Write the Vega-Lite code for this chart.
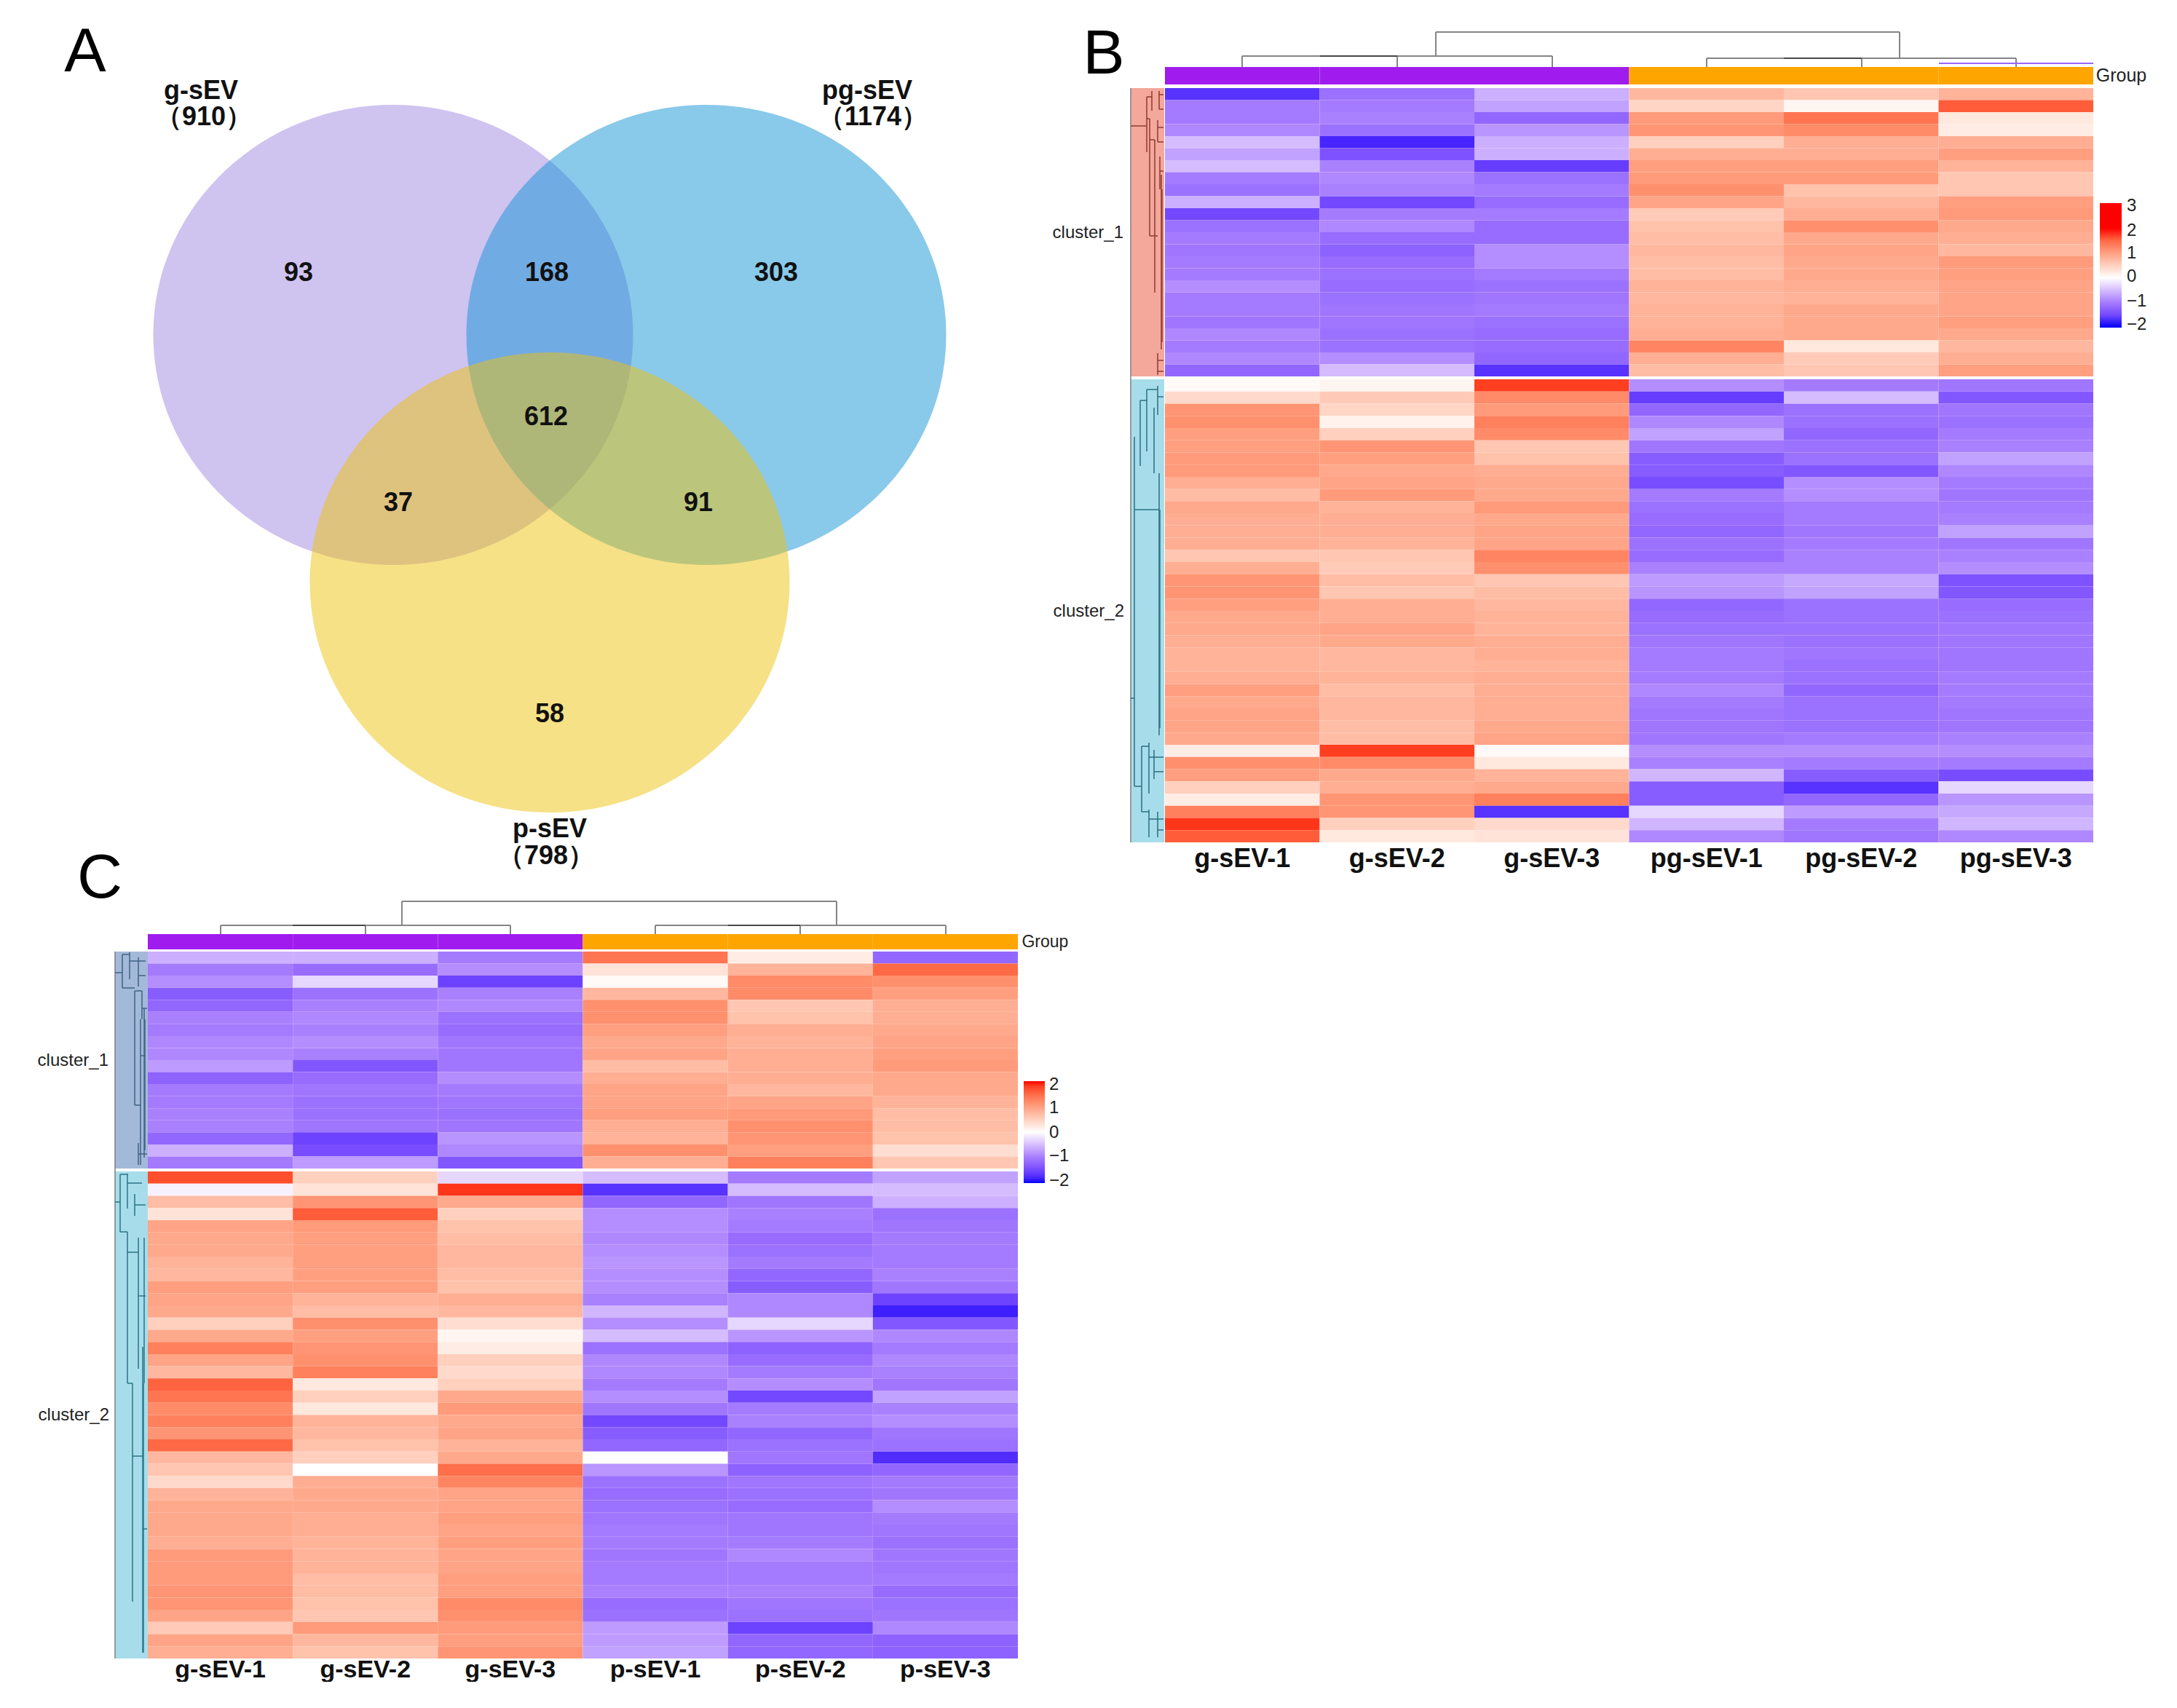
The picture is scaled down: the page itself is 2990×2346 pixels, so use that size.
{"$schema":"https://vega.github.io/schema/vega-lite/v6.json","background":"white","padding":0,"config":{"view":{"stroke":null},"font":"Liberation Sans"},"columns":4,"align":"none","bounds":"flush","spacing":0,"resolve":{"scale":{"color":"independent","stroke":"independent"},"legend":{"color":"independent"}},"concat":[
{"width":203,"height":92,"layer":[
{"data":{"values":[{"set":"g-sEV","x":540,"y":460},{"set":"pg-sEV","x":970,"y":460},{"set":"p-sEV","x":755,"y":800}]},"mark":{"type":"point","filled":true,"shape":"M-1,0A1,0.959,0,1,1,1,0A1,0.959,0,1,1,-1,0Z","size":434281,"opacity":0.5},"encoding":{"x":{"field":"x","type":"quantitative","axis":null,"scale":{"domain":[0,203],"nice":false,"zero":false}},"y":{"field":"y","type":"quantitative","axis":null,"scale":{"domain":[0,92],"reverse":true,"nice":false,"zero":false}},"color":{"field":"set","type":"nominal","legend":null,"scale":{"domain":["g-sEV","pg-sEV","p-sEV","B1","B2","C1","C2"],"range":["#9F87E1","#1393D5","#EDC30D","#F4A79B","#A7DDEA","#A3B9DA","#A7DDEA"]}}}},
{"data":{"values":[{"set":"B1","x":1553,"x2":1599,"y":121,"y2":517},{"set":"B2","x":1553,"x2":1599,"y":521,"y2":1157},{"set":"C1","x":158,"x2":203,"y":1307,"y2":1605},{"set":"C2","x":158,"x2":203,"y":1609,"y2":2278}]},"mark":{"type":"rect"},"encoding":{"x":{"field":"x","type":"quantitative"},"x2":{"field":"x2"},"y":{"field":"y","type":"quantitative"},"y2":{"field":"y2"},"color":{"field":"set","type":"nominal","legend":null}}},
{"data":{"values":[{"k":"root","x":1553,"x2":1553,"y":121,"y2":1157},{"k":"b1","x":1553,"x2":1575,"y":173,"y2":173},{"k":"b1","x":1575,"x2":1575,"y":133,"y2":209},{"k":"b1","x":1579,"x2":1579,"y":163,"y2":324},{"k":"b1","x":1575,"x2":1579,"y":163,"y2":163},{"k":"b1","x":1582,"x2":1582,"y":125,"y2":152},{"k":"b1","x":1575,"x2":1582,"y":133,"y2":133},{"k":"b1","x":1586,"x2":1586,"y":192,"y2":402},{"k":"b1","x":1579,"x2":1586,"y":192,"y2":192},{"k":"b1","x":1592,"x2":1598,"y":130,"y2":130},{"k":"b1","x":1592,"x2":1592,"y":125,"y2":150},{"k":"b1","x":1592,"x2":1598,"y":150,"y2":150},{"k":"b1","x":1590,"x2":1598,"y":175,"y2":175},{"k":"b1","x":1590,"x2":1590,"y":165,"y2":195},{"k":"b1","x":1590,"x2":1598,"y":195,"y2":195},{"k":"b1","x":1593,"x2":1593,"y":215,"y2":260},{"k":"b1","x":1593,"x2":1598,"y":235,"y2":235},{"k":"b1","x":1595,"x2":1595,"y":240,"y2":480},{"k":"b1","x":1596,"x2":1596,"y":260,"y2":470},{"k":"b1","x":1590,"x2":1590,"y":485,"y2":515},{"k":"b1","x":1590,"x2":1598,"y":495,"y2":495},{"k":"b1","x":1590,"x2":1598,"y":510,"y2":510},{"k":"b1","x":1579,"x2":1590,"y":324,"y2":324},{"k":"b2","x":1553,"x2":1558,"y":959,"y2":959},{"k":"b2","x":1558,"x2":1558,"y":600,"y2":1080},{"k":"b2","x":1566,"x2":1566,"y":550,"y2":640},{"k":"b2","x":1566,"x2":1575,"y":550,"y2":550},{"k":"b2","x":1575,"x2":1575,"y":535,"y2":620},{"k":"b2","x":1575,"x2":1590,"y":535,"y2":535},{"k":"b2","x":1585,"x2":1585,"y":560,"y2":650},{"k":"b2","x":1590,"x2":1590,"y":530,"y2":570},{"k":"b2","x":1590,"x2":1598,"y":545,"y2":545},{"k":"b2","x":1592,"x2":1592,"y":650,"y2":1010},{"k":"b2","x":1593,"x2":1593,"y":700,"y2":1000},{"k":"b2","x":1558,"x2":1592,"y":700,"y2":700},{"k":"b2","x":1558,"x2":1568,"y":1080,"y2":1080},{"k":"b2","x":1568,"x2":1568,"y":1025,"y2":1115},{"k":"b2","x":1568,"x2":1578,"y":1025,"y2":1025},{"k":"b2","x":1578,"x2":1578,"y":1020,"y2":1090},{"k":"b2","x":1578,"x2":1598,"y":1040,"y2":1040},{"k":"b2","x":1585,"x2":1585,"y":1030,"y2":1070},{"k":"b2","x":1585,"x2":1598,"y":1060,"y2":1060},{"k":"b2","x":1568,"x2":1578,"y":1115,"y2":1115},{"k":"b2","x":1578,"x2":1578,"y":1112,"y2":1150},{"k":"b2","x":1578,"x2":1598,"y":1125,"y2":1125},{"k":"b2","x":1590,"x2":1590,"y":1115,"y2":1150},{"k":"b2","x":1590,"x2":1598,"y":1140,"y2":1140},{"k":"root","x":158,"x2":158,"y":1307,"y2":2278},{"k":"c1","x":158,"x2":168,"y":1336,"y2":1336},{"k":"c1","x":168,"x2":168,"y":1311,"y2":1357},{"k":"c1","x":168,"x2":178,"y":1311,"y2":1311},{"k":"c1","x":178,"x2":178,"y":1308,"y2":1345},{"k":"c1","x":178,"x2":200,"y":1320,"y2":1320},{"k":"c1","x":190,"x2":190,"y":1315,"y2":1355},{"k":"c1","x":190,"x2":200,"y":1340,"y2":1340},{"k":"c1","x":168,"x2":185,"y":1357,"y2":1357},{"k":"c1","x":185,"x2":185,"y":1361,"y2":1518},{"k":"c1","x":185,"x2":195,"y":1361,"y2":1361},{"k":"c1","x":195,"x2":195,"y":1361,"y2":1400},{"k":"c1","x":195,"x2":202,"y":1385,"y2":1385},{"k":"c1","x":185,"x2":193,"y":1518,"y2":1518},{"k":"c1","x":193,"x2":193,"y":1400,"y2":1600},{"k":"c1","x":193,"x2":200,"y":1450,"y2":1450},{"k":"c1","x":198,"x2":198,"y":1385,"y2":1590},{"k":"c1","x":199,"x2":199,"y":1400,"y2":1580},{"k":"c1","x":190,"x2":190,"y":1570,"y2":1600},{"k":"c1","x":190,"x2":202,"y":1585,"y2":1585},{"k":"c2","x":158,"x2":165,"y":1651,"y2":1651},{"k":"c2","x":165,"x2":165,"y":1613,"y2":1692},{"k":"c2","x":165,"x2":175,"y":1613,"y2":1613},{"k":"c2","x":175,"x2":175,"y":1612,"y2":1660},{"k":"c2","x":175,"x2":195,"y":1625,"y2":1625},{"k":"c2","x":185,"x2":185,"y":1640,"y2":1670},{"k":"c2","x":185,"x2":200,"y":1655,"y2":1655},{"k":"c2","x":165,"x2":175,"y":1692,"y2":1692},{"k":"c2","x":175,"x2":175,"y":1692,"y2":1900},{"k":"c2","x":175,"x2":190,"y":1720,"y2":1720},{"k":"c2","x":190,"x2":190,"y":1700,"y2":1880},{"k":"c2","x":190,"x2":200,"y":1780,"y2":1780},{"k":"c2","x":198,"x2":198,"y":1700,"y2":1900},{"k":"c2","x":175,"x2":182,"y":1900,"y2":1900},{"k":"c2","x":182,"x2":182,"y":1900,"y2":2200},{"k":"c2","x":182,"x2":196,"y":2000,"y2":2000},{"k":"c2","x":196,"x2":196,"y":1850,"y2":2270},{"k":"c2","x":197,"x2":197,"y":1900,"y2":2270},{"k":"c2","x":196,"x2":202,"y":2100,"y2":2100}]},"mark":{"type":"rule","strokeWidth":1.5},"encoding":{"x":{"field":"x","type":"quantitative"},"x2":{"field":"x2"},"y":{"field":"y","type":"quantitative"},"y2":{"field":"y2"},"stroke":{"field":"k","type":"nominal","legend":null,"scale":{"domain":["root","b1","b2","c1","c2","main","dark","stray"],"range":["#7f7f7f","#8C3B30","#2B6E80","#3F6283","#2A7385","#858585","#484848","#9966FF"]}}}},
{"data":{"values":[{"k":"main","x":1972,"x2":2609,"y":44,"y2":44},{"k":"main","x":1972,"x2":1972,"y":44,"y2":77},{"k":"main","x":2609,"x2":2609,"y":44,"y2":80},{"k":"main","x":1706,"x2":2132,"y":77,"y2":77},{"k":"main","x":1706,"x2":1706,"y":77,"y2":92},{"k":"main","x":1919,"x2":1919,"y":77,"y2":92},{"k":"main","x":2132,"x2":2132,"y":77,"y2":92},{"k":"dark","x":1813,"x2":1919,"y":77,"y2":77},{"k":"main","x":2344,"x2":2769,"y":80,"y2":80},{"k":"main","x":2344,"x2":2344,"y":80,"y2":92},{"k":"main","x":2557,"x2":2557,"y":80,"y2":92},{"k":"main","x":2769,"x2":2769,"y":80,"y2":92},{"k":"dark","x":2450,"x2":2557,"y":80,"y2":80},{"k":"stray","x":2663,"x2":2875,"y":87,"y2":87},{"k":"main","x":552,"x2":1149,"y":1238,"y2":1238},{"k":"main","x":552,"x2":552,"y":1238,"y2":1271},{"k":"main","x":1149,"x2":1149,"y":1238,"y2":1271},{"k":"main","x":303,"x2":701,"y":1271,"y2":1271},{"k":"main","x":303,"x2":303,"y":1271,"y2":1283},{"k":"main","x":502,"x2":502,"y":1271,"y2":1283},{"k":"main","x":701,"x2":701,"y":1271,"y2":1283},{"k":"dark","x":402,"x2":502,"y":1271,"y2":1271},{"k":"main","x":900,"x2":1299,"y":1271,"y2":1271},{"k":"main","x":900,"x2":900,"y":1271,"y2":1283},{"k":"main","x":1099,"x2":1099,"y":1271,"y2":1283},{"k":"main","x":1299,"x2":1299,"y":1271,"y2":1283},{"k":"dark","x":1000,"x2":1099,"y":1271,"y2":1271}]},"mark":{"type":"rule","strokeWidth":2},"encoding":{"x":{"field":"x","type":"quantitative"},"x2":{"field":"x2"},"y":{"field":"y","type":"quantitative"},"y2":{"field":"y2"},"stroke":{"field":"k","type":"nominal","legend":null}}},
{"data":{"values":[{"t":"93","x":410,"y":375},{"t":"168","x":751,"y":375},{"t":"303","x":1066,"y":375},{"t":"612","x":750,"y":573},{"t":"37","x":547,"y":691},{"t":"91","x":959,"y":691},{"t":"58","x":755,"y":981},{"t":"g-sEV","x":276,"y":125},{"t":"（910）","x":280,"y":161},{"t":"pg-sEV","x":1191,"y":125},{"t":"（1174）","x":1199,"y":161},{"t":"p-sEV","x":755,"y":1139},{"t":"（798）","x":750,"y":1176}]},"mark":{"type":"text","fontSize":36,"fontWeight":"bold","color":"#111111","baseline":"middle"},"encoding":{"x":{"field":"x","type":"quantitative"},"y":{"field":"y","type":"quantitative"},"text":{"field":"t"}}},
{"data":{"values":[{"t":"A","x":117,"y":72},{"t":"B","x":1516,"y":75},{"t":"C","x":137,"y":1207}]},"mark":{"type":"text","fontSize":86,"color":"black","baseline":"middle"},"encoding":{"x":{"field":"x","type":"quantitative"},"y":{"field":"y","type":"quantitative"},"text":{"field":"t"}}},
{"data":{"values":[{"t":"cluster_1","x":1543,"y":320},{"t":"cluster_2","x":1544,"y":840},{"t":"cluster_1","x":149,"y":1457},{"t":"cluster_2","x":150,"y":1944}]},"mark":{"type":"text","fontSize":24,"color":"#222222","align":"right","baseline":"middle"},"encoding":{"x":{"field":"x","type":"quantitative"},"y":{"field":"y","type":"quantitative"},"text":{"field":"t"}}},
{"data":{"values":[{"t":"3","x":2921,"y":283},{"t":"2","x":2921,"y":317},{"t":"1","x":2921,"y":348},{"t":"0","x":2921,"y":380},{"t":"−1","x":2921,"y":414},{"t":"−2","x":2921,"y":446},{"t":"2","x":1441,"y":1490},{"t":"1","x":1441,"y":1522},{"t":"0","x":1441,"y":1556},{"t":"−1","x":1441,"y":1588},{"t":"−2","x":1441,"y":1622}]},"mark":{"type":"text","fontSize":24,"color":"#222222","align":"left","baseline":"middle"},"encoding":{"x":{"field":"x","type":"quantitative"},"y":{"field":"y","type":"quantitative"},"text":{"field":"t"}}}
]},
{"width":1195,"height":1,"data":{"values":[]},"mark":"rect","encoding":{}},
{"width":202,"height":1,"data":{"values":[]},"mark":"rect","encoding":{}},
{"width":1275,"height":1,"data":{"values":[]},"mark":"rect","encoding":{}},
{"width":1,"height":1,"data":{"values":[]},"mark":"rect","encoding":{}},
{"width":1,"height":1,"data":{"values":[]},"mark":"rect","encoding":{}},
{"width":1,"height":1,"data":{"values":[]},"mark":"rect","encoding":{}},
{"width":1275,"height":24,"data":{"values":[{"s":"g-sEV-1","g":"g"},{"s":"g-sEV-2","g":"g"},{"s":"g-sEV-3","g":"g"},{"s":"pg-sEV-1","g":"o"},{"s":"pg-sEV-2","g":"o"},{"s":"pg-sEV-3","g":"o"}]},"layer":[{"mark":{"type":"rect"},"encoding":{"x":{"field":"s","type":"nominal","axis":null,"sort":null,"scale":{"paddingInner":0,"paddingOuter":0}},"color":{"field":"g","type":"nominal","legend":null,"scale":{"domain":["g","o"],"range":["#A01CEE","#FFA500"]}}}},{"transform":[{"filter":"datum.s==='pg-sEV-3'"}],"mark":{"type":"text","text":"Group","fontSize":25,"align":"left","dx":110,"color":"#222222"},"encoding":{"x":{"field":"s","type":"nominal","sort":null}}}]},
{"width":1,"height":5,"data":{"values":[]},"mark":"rect","encoding":{}},
{"width":1,"height":1,"data":{"values":[]},"mark":"rect","encoding":{}},
{"width":1,"height":1,"data":{"values":[]},"mark":"rect","encoding":{}},
{"width":1,"height":1,"data":{"values":[]},"mark":"rect","encoding":{}},
{"width":1,"height":1,"data":{"values":[]},"mark":"rect","encoding":{}},
{"width":1,"height":1,"data":{"values":[]},"mark":"rect","encoding":{}},
{"width":1,"height":1,"data":{"values":[]},"mark":"rect","encoding":{}},
{"width":1275,"height":396,"data":{"values":[{"r":1,"s":"g-sEV-1","v":-1.7},{"r":2,"s":"g-sEV-1","v":-1.0},{"r":3,"s":"g-sEV-1","v":-1.0},{"r":4,"s":"g-sEV-1","v":-0.9},{"r":5,"s":"g-sEV-1","v":-0.5},{"r":6,"s":"g-sEV-1","v":-0.7},{"r":7,"s":"g-sEV-1","v":-0.5},{"r":8,"s":"g-sEV-1","v":-1.0},{"r":9,"s":"g-sEV-1","v":-1.1},{"r":10,"s":"g-sEV-1","v":-0.6},{"r":11,"s":"g-sEV-1","v":-1.5},{"r":12,"s":"g-sEV-1","v":-1.1},{"r":13,"s":"g-sEV-1","v":-1.0},{"r":14,"s":"g-sEV-1","v":-1.05},{"r":15,"s":"g-sEV-1","v":-1.0},{"r":16,"s":"g-sEV-1","v":-1.0},{"r":17,"s":"g-sEV-1","v":-0.85},{"r":18,"s":"g-sEV-1","v":-1.0},{"r":19,"s":"g-sEV-1","v":-1.0},{"r":20,"s":"g-sEV-1","v":-1.05},{"r":21,"s":"g-sEV-1","v":-0.9},{"r":22,"s":"g-sEV-1","v":-1.0},{"r":23,"s":"g-sEV-1","v":-0.9},{"r":24,"s":"g-sEV-1","v":-1.2},{"r":1,"s":"g-sEV-2","v":-1.1},{"r":2,"s":"g-sEV-2","v":-1.0},{"r":3,"s":"g-sEV-2","v":-0.95},{"r":4,"s":"g-sEV-2","v":-1.1},{"r":5,"s":"g-sEV-2","v":-1.8},{"r":6,"s":"g-sEV-2","v":-1.4},{"r":7,"s":"g-sEV-2","v":-0.95},{"r":8,"s":"g-sEV-2","v":-0.9},{"r":9,"s":"g-sEV-2","v":-0.95},{"r":10,"s":"g-sEV-2","v":-1.5},{"r":11,"s":"g-sEV-2","v":-1.0},{"r":12,"s":"g-sEV-2","v":-0.9},{"r":13,"s":"g-sEV-2","v":-1.15},{"r":14,"s":"g-sEV-2","v":-1.25},{"r":15,"s":"g-sEV-2","v":-1.15},{"r":16,"s":"g-sEV-2","v":-1.1},{"r":17,"s":"g-sEV-2","v":-1.15},{"r":18,"s":"g-sEV-2","v":-1.1},{"r":19,"s":"g-sEV-2","v":-1.05},{"r":20,"s":"g-sEV-2","v":-1.05},{"r":21,"s":"g-sEV-2","v":-1.1},{"r":22,"s":"g-sEV-2","v":-1.1},{"r":23,"s":"g-sEV-2","v":-0.85},{"r":24,"s":"g-sEV-2","v":-0.5},{"r":1,"s":"g-sEV-3","v":-0.6},{"r":2,"s":"g-sEV-3","v":-0.7},{"r":3,"s":"g-sEV-3","v":-1.2},{"r":4,"s":"g-sEV-3","v":-0.8},{"r":5,"s":"g-sEV-3","v":-0.6},{"r":6,"s":"g-sEV-3","v":-0.6},{"r":7,"s":"g-sEV-3","v":-1.6},{"r":8,"s":"g-sEV-3","v":-1.1},{"r":9,"s":"g-sEV-3","v":-1.0},{"r":10,"s":"g-sEV-3","v":-1.15},{"r":11,"s":"g-sEV-3","v":-1.0},{"r":12,"s":"g-sEV-3","v":-1.15},{"r":13,"s":"g-sEV-3","v":-1.15},{"r":14,"s":"g-sEV-3","v":-0.85},{"r":15,"s":"g-sEV-3","v":-0.85},{"r":16,"s":"g-sEV-3","v":-1.0},{"r":17,"s":"g-sEV-3","v":-1.1},{"r":18,"s":"g-sEV-3","v":-1.05},{"r":19,"s":"g-sEV-3","v":-1.0},{"r":20,"s":"g-sEV-3","v":-1.1},{"r":21,"s":"g-sEV-3","v":-1.15},{"r":22,"s":"g-sEV-3","v":-1.15},{"r":23,"s":"g-sEV-3","v":-1.2},{"r":24,"s":"g-sEV-3","v":-1.7},{"r":1,"s":"pg-sEV-1","v":0.75},{"r":2,"s":"pg-sEV-1","v":0.45},{"r":3,"s":"pg-sEV-1","v":1.05},{"r":4,"s":"pg-sEV-1","v":1.1},{"r":5,"s":"pg-sEV-1","v":0.5},{"r":6,"s":"pg-sEV-1","v":0.85},{"r":7,"s":"pg-sEV-1","v":1.0},{"r":8,"s":"pg-sEV-1","v":1.05},{"r":9,"s":"pg-sEV-1","v":1.15},{"r":10,"s":"pg-sEV-1","v":0.95},{"r":11,"s":"pg-sEV-1","v":0.55},{"r":12,"s":"pg-sEV-1","v":0.65},{"r":13,"s":"pg-sEV-1","v":0.7},{"r":14,"s":"pg-sEV-1","v":0.75},{"r":15,"s":"pg-sEV-1","v":0.7},{"r":16,"s":"pg-sEV-1","v":0.7},{"r":17,"s":"pg-sEV-1","v":0.8},{"r":18,"s":"pg-sEV-1","v":0.75},{"r":19,"s":"pg-sEV-1","v":0.8},{"r":20,"s":"pg-sEV-1","v":0.8},{"r":21,"s":"pg-sEV-1","v":0.85},{"r":22,"s":"pg-sEV-1","v":1.25},{"r":23,"s":"pg-sEV-1","v":0.85},{"r":24,"s":"pg-sEV-1","v":0.7},{"r":1,"s":"pg-sEV-2","v":0.6},{"r":2,"s":"pg-sEV-2","v":0.1},{"r":3,"s":"pg-sEV-2","v":1.4},{"r":4,"s":"pg-sEV-2","v":1.2},{"r":5,"s":"pg-sEV-2","v":0.85},{"r":6,"s":"pg-sEV-2","v":0.85},{"r":7,"s":"pg-sEV-2","v":1.0},{"r":8,"s":"pg-sEV-2","v":1.05},{"r":9,"s":"pg-sEV-2","v":0.65},{"r":10,"s":"pg-sEV-2","v":0.75},{"r":11,"s":"pg-sEV-2","v":0.85},{"r":12,"s":"pg-sEV-2","v":1.15},{"r":13,"s":"pg-sEV-2","v":0.9},{"r":14,"s":"pg-sEV-2","v":0.95},{"r":15,"s":"pg-sEV-2","v":0.9},{"r":16,"s":"pg-sEV-2","v":0.9},{"r":17,"s":"pg-sEV-2","v":0.85},{"r":18,"s":"pg-sEV-2","v":0.8},{"r":19,"s":"pg-sEV-2","v":0.9},{"r":20,"s":"pg-sEV-2","v":0.9},{"r":21,"s":"pg-sEV-2","v":0.9},{"r":22,"s":"pg-sEV-2","v":0.25},{"r":23,"s":"pg-sEV-2","v":0.55},{"r":24,"s":"pg-sEV-2","v":0.6},{"r":1,"s":"pg-sEV-3","v":0.8},{"r":2,"s":"pg-sEV-3","v":1.6},{"r":3,"s":"pg-sEV-3","v":0.25},{"r":4,"s":"pg-sEV-3","v":0.2},{"r":5,"s":"pg-sEV-3","v":0.85},{"r":6,"s":"pg-sEV-3","v":1.0},{"r":7,"s":"pg-sEV-3","v":0.8},{"r":8,"s":"pg-sEV-3","v":0.6},{"r":9,"s":"pg-sEV-3","v":0.6},{"r":10,"s":"pg-sEV-3","v":1.0},{"r":11,"s":"pg-sEV-3","v":1.05},{"r":12,"s":"pg-sEV-3","v":0.9},{"r":13,"s":"pg-sEV-3","v":0.85},{"r":14,"s":"pg-sEV-3","v":0.75},{"r":15,"s":"pg-sEV-3","v":1.05},{"r":16,"s":"pg-sEV-3","v":1.0},{"r":17,"s":"pg-sEV-3","v":0.95},{"r":18,"s":"pg-sEV-3","v":0.95},{"r":19,"s":"pg-sEV-3","v":0.95},{"r":20,"s":"pg-sEV-3","v":1.0},{"r":21,"s":"pg-sEV-3","v":0.9},{"r":22,"s":"pg-sEV-3","v":0.75},{"r":23,"s":"pg-sEV-3","v":0.85},{"r":24,"s":"pg-sEV-3","v":1.0}]},"mark":{"type":"rect"},"encoding":{"x":{"field":"s","type":"nominal","axis":null,"sort":null,"scale":{"paddingInner":0,"paddingOuter":0}},"y":{"field":"r","type":"ordinal","axis":null,"scale":{"paddingInner":0,"paddingOuter":0}},"color":{"field":"v","type":"quantitative","scale":{"domain":[-2,-1,0,2,3],"range":["#0000ff","#A47BFF","#ffffff","#ff0000","#ff0000"],"interpolate":"lab"},"legend":{"type":"gradient","orient":"none","legendX":1284,"legendY":158,"title":null,"direction":"vertical","gradientLength":171,"gradientThickness":30,"values":[-2,-1,0,1,2,3],"labelExpr":"''"}}}},
{"width":1,"height":4,"data":{"values":[]},"mark":"rect","encoding":{}},
{"width":1,"height":1,"data":{"values":[]},"mark":"rect","encoding":{}},
{"width":1,"height":1,"data":{"values":[]},"mark":"rect","encoding":{}},
{"width":1,"height":1,"data":{"values":[]},"mark":"rect","encoding":{}},
{"width":1,"height":1,"data":{"values":[]},"mark":"rect","encoding":{}},
{"width":1,"height":1,"data":{"values":[]},"mark":"rect","encoding":{}},
{"width":1,"height":1,"data":{"values":[]},"mark":"rect","encoding":{}},
{"width":1275,"height":636,"data":{"values":[{"r":1,"s":"g-sEV-1","v":0.05},{"r":2,"s":"g-sEV-1","v":0.4},{"r":3,"s":"g-sEV-1","v":1.1},{"r":4,"s":"g-sEV-1","v":1.15},{"r":5,"s":"g-sEV-1","v":1.0},{"r":6,"s":"g-sEV-1","v":1.0},{"r":7,"s":"g-sEV-1","v":1.05},{"r":8,"s":"g-sEV-1","v":1.05},{"r":9,"s":"g-sEV-1","v":0.85},{"r":10,"s":"g-sEV-1","v":0.7},{"r":11,"s":"g-sEV-1","v":0.9},{"r":12,"s":"g-sEV-1","v":0.85},{"r":13,"s":"g-sEV-1","v":0.85},{"r":14,"s":"g-sEV-1","v":0.85},{"r":15,"s":"g-sEV-1","v":0.6},{"r":16,"s":"g-sEV-1","v":0.85},{"r":17,"s":"g-sEV-1","v":1.1},{"r":18,"s":"g-sEV-1","v":1.1},{"r":19,"s":"g-sEV-1","v":1.0},{"r":20,"s":"g-sEV-1","v":0.9},{"r":21,"s":"g-sEV-1","v":0.9},{"r":22,"s":"g-sEV-1","v":0.85},{"r":23,"s":"g-sEV-1","v":0.8},{"r":24,"s":"g-sEV-1","v":0.8},{"r":25,"s":"g-sEV-1","v":0.85},{"r":26,"s":"g-sEV-1","v":1.0},{"r":27,"s":"g-sEV-1","v":0.9},{"r":28,"s":"g-sEV-1","v":0.95},{"r":29,"s":"g-sEV-1","v":0.95},{"r":30,"s":"g-sEV-1","v":0.9},{"r":31,"s":"g-sEV-1","v":0.2},{"r":32,"s":"g-sEV-1","v":1.15},{"r":33,"s":"g-sEV-1","v":1.0},{"r":34,"s":"g-sEV-1","v":0.5},{"r":35,"s":"g-sEV-1","v":0.2},{"r":36,"s":"g-sEV-1","v":1.3},{"r":37,"s":"g-sEV-1","v":1.85},{"r":38,"s":"g-sEV-1","v":1.6},{"r":1,"s":"g-sEV-2","v":0.1},{"r":2,"s":"g-sEV-2","v":0.55},{"r":3,"s":"g-sEV-2","v":0.45},{"r":4,"s":"g-sEV-2","v":0.15},{"r":5,"s":"g-sEV-2","v":0.5},{"r":6,"s":"g-sEV-2","v":1.1},{"r":7,"s":"g-sEV-2","v":1.0},{"r":8,"s":"g-sEV-2","v":0.9},{"r":9,"s":"g-sEV-2","v":0.95},{"r":10,"s":"g-sEV-2","v":1.05},{"r":11,"s":"g-sEV-2","v":0.8},{"r":12,"s":"g-sEV-2","v":0.85},{"r":13,"s":"g-sEV-2","v":0.85},{"r":14,"s":"g-sEV-2","v":0.8},{"r":15,"s":"g-sEV-2","v":0.6},{"r":16,"s":"g-sEV-2","v":0.55},{"r":17,"s":"g-sEV-2","v":0.7},{"r":18,"s":"g-sEV-2","v":0.6},{"r":19,"s":"g-sEV-2","v":0.85},{"r":20,"s":"g-sEV-2","v":0.85},{"r":21,"s":"g-sEV-2","v":0.95},{"r":22,"s":"g-sEV-2","v":0.9},{"r":23,"s":"g-sEV-2","v":0.75},{"r":24,"s":"g-sEV-2","v":0.75},{"r":25,"s":"g-sEV-2","v":0.8},{"r":26,"s":"g-sEV-2","v":0.7},{"r":27,"s":"g-sEV-2","v":0.75},{"r":28,"s":"g-sEV-2","v":0.75},{"r":29,"s":"g-sEV-2","v":0.7},{"r":30,"s":"g-sEV-2","v":0.7},{"r":31,"s":"g-sEV-2","v":1.8},{"r":32,"s":"g-sEV-2","v":1.2},{"r":33,"s":"g-sEV-2","v":0.9},{"r":34,"s":"g-sEV-2","v":0.85},{"r":35,"s":"g-sEV-2","v":1.1},{"r":36,"s":"g-sEV-2","v":1.1},{"r":37,"s":"g-sEV-2","v":0.5},{"r":38,"s":"g-sEV-2","v":0.25},{"r":1,"s":"g-sEV-3","v":1.8},{"r":2,"s":"g-sEV-3","v":1.2},{"r":3,"s":"g-sEV-3","v":1.05},{"r":4,"s":"g-sEV-3","v":1.3},{"r":5,"s":"g-sEV-3","v":1.2},{"r":6,"s":"g-sEV-3","v":0.6},{"r":7,"s":"g-sEV-3","v":0.65},{"r":8,"s":"g-sEV-3","v":0.85},{"r":9,"s":"g-sEV-3","v":0.9},{"r":10,"s":"g-sEV-3","v":0.9},{"r":11,"s":"g-sEV-3","v":1.05},{"r":12,"s":"g-sEV-3","v":0.9},{"r":13,"s":"g-sEV-3","v":0.95},{"r":14,"s":"g-sEV-3","v":0.95},{"r":15,"s":"g-sEV-3","v":1.25},{"r":16,"s":"g-sEV-3","v":1.15},{"r":17,"s":"g-sEV-3","v":0.6},{"r":18,"s":"g-sEV-3","v":0.7},{"r":19,"s":"g-sEV-3","v":0.75},{"r":20,"s":"g-sEV-3","v":0.8},{"r":21,"s":"g-sEV-3","v":0.8},{"r":22,"s":"g-sEV-3","v":0.85},{"r":23,"s":"g-sEV-3","v":0.85},{"r":24,"s":"g-sEV-3","v":0.8},{"r":25,"s":"g-sEV-3","v":0.85},{"r":26,"s":"g-sEV-3","v":0.85},{"r":27,"s":"g-sEV-3","v":0.85},{"r":28,"s":"g-sEV-3","v":0.85},{"r":29,"s":"g-sEV-3","v":0.9},{"r":30,"s":"g-sEV-3","v":0.95},{"r":31,"s":"g-sEV-3","v":0.05},{"r":32,"s":"g-sEV-3","v":0.25},{"r":33,"s":"g-sEV-3","v":0.8},{"r":34,"s":"g-sEV-3","v":0.9},{"r":35,"s":"g-sEV-3","v":1.3},{"r":36,"s":"g-sEV-3","v":-1.7},{"r":37,"s":"g-sEV-3","v":0.4},{"r":38,"s":"g-sEV-3","v":0.3},{"r":1,"s":"pg-sEV-1","v":-0.85},{"r":2,"s":"pg-sEV-1","v":-1.6},{"r":3,"s":"pg-sEV-1","v":-1.2},{"r":4,"s":"pg-sEV-1","v":-0.9},{"r":5,"s":"pg-sEV-1","v":-0.7},{"r":6,"s":"pg-sEV-1","v":-1.05},{"r":7,"s":"pg-sEV-1","v":-1.3},{"r":8,"s":"pg-sEV-1","v":-1.3},{"r":9,"s":"pg-sEV-1","v":-1.45},{"r":10,"s":"pg-sEV-1","v":-1.0},{"r":11,"s":"pg-sEV-1","v":-1.1},{"r":12,"s":"pg-sEV-1","v":-1.15},{"r":13,"s":"pg-sEV-1","v":-1.2},{"r":14,"s":"pg-sEV-1","v":-1.1},{"r":15,"s":"pg-sEV-1","v":-1.15},{"r":16,"s":"pg-sEV-1","v":-0.95},{"r":17,"s":"pg-sEV-1","v":-0.75},{"r":18,"s":"pg-sEV-1","v":-0.8},{"r":19,"s":"pg-sEV-1","v":-1.2},{"r":20,"s":"pg-sEV-1","v":-1.15},{"r":21,"s":"pg-sEV-1","v":-1.1},{"r":22,"s":"pg-sEV-1","v":-1.05},{"r":23,"s":"pg-sEV-1","v":-1.0},{"r":24,"s":"pg-sEV-1","v":-1.0},{"r":25,"s":"pg-sEV-1","v":-1.0},{"r":26,"s":"pg-sEV-1","v":-0.9},{"r":27,"s":"pg-sEV-1","v":-1.0},{"r":28,"s":"pg-sEV-1","v":-1.05},{"r":29,"s":"pg-sEV-1","v":-1.05},{"r":30,"s":"pg-sEV-1","v":-1.05},{"r":31,"s":"pg-sEV-1","v":-0.85},{"r":32,"s":"pg-sEV-1","v":-0.95},{"r":33,"s":"pg-sEV-1","v":-0.55},{"r":34,"s":"pg-sEV-1","v":-1.3},{"r":35,"s":"pg-sEV-1","v":-1.3},{"r":36,"s":"pg-sEV-1","v":-0.3},{"r":37,"s":"pg-sEV-1","v":-0.55},{"r":38,"s":"pg-sEV-1","v":-0.9},{"r":1,"s":"pg-sEV-2","v":-1.0},{"r":2,"s":"pg-sEV-2","v":-0.5},{"r":3,"s":"pg-sEV-2","v":-1.1},{"r":4,"s":"pg-sEV-2","v":-1.1},{"r":5,"s":"pg-sEV-2","v":-1.2},{"r":6,"s":"pg-sEV-2","v":-1.1},{"r":7,"s":"pg-sEV-2","v":-1.1},{"r":8,"s":"pg-sEV-2","v":-1.35},{"r":9,"s":"pg-sEV-2","v":-0.85},{"r":10,"s":"pg-sEV-2","v":-0.85},{"r":11,"s":"pg-sEV-2","v":-1.0},{"r":12,"s":"pg-sEV-2","v":-1.0},{"r":13,"s":"pg-sEV-2","v":-1.05},{"r":14,"s":"pg-sEV-2","v":-1.0},{"r":15,"s":"pg-sEV-2","v":-0.95},{"r":16,"s":"pg-sEV-2","v":-0.95},{"r":17,"s":"pg-sEV-2","v":-0.65},{"r":18,"s":"pg-sEV-2","v":-0.7},{"r":19,"s":"pg-sEV-2","v":-1.1},{"r":20,"s":"pg-sEV-2","v":-1.1},{"r":21,"s":"pg-sEV-2","v":-1.1},{"r":22,"s":"pg-sEV-2","v":-1.1},{"r":23,"s":"pg-sEV-2","v":-1.05},{"r":24,"s":"pg-sEV-2","v":-1.1},{"r":25,"s":"pg-sEV-2","v":-1.1},{"r":26,"s":"pg-sEV-2","v":-1.2},{"r":27,"s":"pg-sEV-2","v":-1.1},{"r":28,"s":"pg-sEV-2","v":-1.1},{"r":29,"s":"pg-sEV-2","v":-1.1},{"r":30,"s":"pg-sEV-2","v":-1.0},{"r":31,"s":"pg-sEV-2","v":-0.85},{"r":32,"s":"pg-sEV-2","v":-1.0},{"r":33,"s":"pg-sEV-2","v":-1.3},{"r":34,"s":"pg-sEV-2","v":-1.7},{"r":35,"s":"pg-sEV-2","v":-1.2},{"r":36,"s":"pg-sEV-2","v":-0.75},{"r":37,"s":"pg-sEV-2","v":-1.0},{"r":38,"s":"pg-sEV-2","v":-1.05},{"r":1,"s":"pg-sEV-3","v":-1.05},{"r":2,"s":"pg-sEV-3","v":-1.35},{"r":3,"s":"pg-sEV-3","v":-1.05},{"r":4,"s":"pg-sEV-3","v":-1.1},{"r":5,"s":"pg-sEV-3","v":-1.0},{"r":6,"s":"pg-sEV-3","v":-0.95},{"r":7,"s":"pg-sEV-3","v":-0.7},{"r":8,"s":"pg-sEV-3","v":-0.9},{"r":9,"s":"pg-sEV-3","v":-1.0},{"r":10,"s":"pg-sEV-3","v":-1.05},{"r":11,"s":"pg-sEV-3","v":-1.0},{"r":12,"s":"pg-sEV-3","v":-0.95},{"r":13,"s":"pg-sEV-3","v":-0.7},{"r":14,"s":"pg-sEV-3","v":-1.05},{"r":15,"s":"pg-sEV-3","v":-0.95},{"r":16,"s":"pg-sEV-3","v":-0.85},{"r":17,"s":"pg-sEV-3","v":-1.4},{"r":18,"s":"pg-sEV-3","v":-1.35},{"r":19,"s":"pg-sEV-3","v":-1.15},{"r":20,"s":"pg-sEV-3","v":-1.1},{"r":21,"s":"pg-sEV-3","v":-1.05},{"r":22,"s":"pg-sEV-3","v":-1.05},{"r":23,"s":"pg-sEV-3","v":-1.05},{"r":24,"s":"pg-sEV-3","v":-1.05},{"r":25,"s":"pg-sEV-3","v":-1.0},{"r":26,"s":"pg-sEV-3","v":-1.0},{"r":27,"s":"pg-sEV-3","v":-1.0},{"r":28,"s":"pg-sEV-3","v":-1.05},{"r":29,"s":"pg-sEV-3","v":-1.05},{"r":30,"s":"pg-sEV-3","v":-0.95},{"r":31,"s":"pg-sEV-3","v":-0.85},{"r":32,"s":"pg-sEV-3","v":-1.0},{"r":33,"s":"pg-sEV-3","v":-1.45},{"r":34,"s":"pg-sEV-3","v":-0.3},{"r":35,"s":"pg-sEV-3","v":-0.8},{"r":36,"s":"pg-sEV-3","v":-0.65},{"r":37,"s":"pg-sEV-3","v":-0.55},{"r":38,"s":"pg-sEV-3","v":-0.9}]},"mark":{"type":"rect"},"encoding":{"x":{"field":"s","type":"nominal","sort":null,"scale":{"paddingInner":0,"paddingOuter":0},"axis":{"title":null,"orient":"bottom","labelAngle":0,"ticks":false,"domain":false,"labelFontSize":36,"labelFontWeight":"bold","labelColor":"#111111","labelPadding":5,"labelFont":"Liberation Sans"}},"y":{"field":"r","type":"ordinal","axis":null,"scale":{"paddingInner":0,"paddingOuter":0}},"color":{"field":"v","type":"quantitative","scale":{"domain":[-2,-1,0,2,3],"range":["#0000ff","#A47BFF","#ffffff","#ff0000","#ff0000"],"interpolate":"lab"},"legend":null}}},
{"width":1,"height":126,"data":{"values":[]},"mark":"rect","encoding":{}},
{"width":1,"height":1,"data":{"values":[]},"mark":"rect","encoding":{}},
{"width":1,"height":1,"data":{"values":[]},"mark":"rect","encoding":{}},
{"width":1,"height":1,"data":{"values":[]},"mark":"rect","encoding":{}},
{"width":1,"height":1,"data":{"values":[]},"mark":"rect","encoding":{}},
{"width":1195,"height":21,"data":{"values":[{"s":"g-sEV-1","g":"g"},{"s":"g-sEV-2","g":"g"},{"s":"g-sEV-3","g":"g"},{"s":"p-sEV-1","g":"o"},{"s":"p-sEV-2","g":"o"},{"s":"p-sEV-3","g":"o"}]},"layer":[{"mark":{"type":"rect"},"encoding":{"x":{"field":"s","type":"nominal","axis":null,"sort":null,"scale":{"paddingInner":0,"paddingOuter":0}},"color":{"field":"g","type":"nominal","legend":null,"scale":{"domain":["g","o"],"range":["#A01CEE","#FFA500"]}}}},{"transform":[{"filter":"datum.s==='p-sEV-3'"}],"mark":{"type":"text","text":"Group","fontSize":23,"align":"left","dx":105,"color":"#222222"},"encoding":{"x":{"field":"s","type":"nominal","sort":null}}}]},
{"width":1,"height":1,"data":{"values":[]},"mark":"rect","encoding":{}},
{"width":1,"height":1,"data":{"values":[]},"mark":"rect","encoding":{}},
{"width":1,"height":3,"data":{"values":[]},"mark":"rect","encoding":{}},
{"width":1,"height":1,"data":{"values":[]},"mark":"rect","encoding":{}},
{"width":1,"height":1,"data":{"values":[]},"mark":"rect","encoding":{}},
{"width":1,"height":1,"data":{"values":[]},"mark":"rect","encoding":{}},
{"width":1,"height":1,"data":{"values":[]},"mark":"rect","encoding":{}},
{"width":1195,"height":298,"data":{"values":[{"r":1,"s":"g-sEV-1","v":-0.6},{"r":2,"s":"g-sEV-1","v":-1.0},{"r":3,"s":"g-sEV-1","v":-0.85},{"r":4,"s":"g-sEV-1","v":-1.3},{"r":5,"s":"g-sEV-1","v":-1.2},{"r":6,"s":"g-sEV-1","v":-0.95},{"r":7,"s":"g-sEV-1","v":-1.0},{"r":8,"s":"g-sEV-1","v":-0.9},{"r":9,"s":"g-sEV-1","v":-0.9},{"r":10,"s":"g-sEV-1","v":-0.75},{"r":11,"s":"g-sEV-1","v":-1.25},{"r":12,"s":"g-sEV-1","v":-1.0},{"r":13,"s":"g-sEV-1","v":-1.0},{"r":14,"s":"g-sEV-1","v":-0.95},{"r":15,"s":"g-sEV-1","v":-0.95},{"r":16,"s":"g-sEV-1","v":-1.2},{"r":17,"s":"g-sEV-1","v":-0.6},{"r":18,"s":"g-sEV-1","v":-1.0},{"r":1,"s":"g-sEV-2","v":-0.6},{"r":2,"s":"g-sEV-2","v":-1.15},{"r":3,"s":"g-sEV-2","v":-0.3},{"r":4,"s":"g-sEV-2","v":-1.1},{"r":5,"s":"g-sEV-2","v":-0.95},{"r":6,"s":"g-sEV-2","v":-0.9},{"r":7,"s":"g-sEV-2","v":-0.95},{"r":8,"s":"g-sEV-2","v":-0.85},{"r":9,"s":"g-sEV-2","v":-0.95},{"r":10,"s":"g-sEV-2","v":-1.35},{"r":11,"s":"g-sEV-2","v":-1.15},{"r":12,"s":"g-sEV-2","v":-1.05},{"r":13,"s":"g-sEV-2","v":-1.1},{"r":14,"s":"g-sEV-2","v":-1.1},{"r":15,"s":"g-sEV-2","v":-1.05},{"r":16,"s":"g-sEV-2","v":-1.55},{"r":17,"s":"g-sEV-2","v":-1.45},{"r":18,"s":"g-sEV-2","v":-0.75},{"r":1,"s":"g-sEV-3","v":-1.0},{"r":2,"s":"g-sEV-3","v":-0.85},{"r":3,"s":"g-sEV-3","v":-1.55},{"r":4,"s":"g-sEV-3","v":-0.95},{"r":5,"s":"g-sEV-3","v":-0.9},{"r":6,"s":"g-sEV-3","v":-1.1},{"r":7,"s":"g-sEV-3","v":-1.15},{"r":8,"s":"g-sEV-3","v":-1.05},{"r":9,"s":"g-sEV-3","v":-1.05},{"r":10,"s":"g-sEV-3","v":-1.05},{"r":11,"s":"g-sEV-3","v":-0.85},{"r":12,"s":"g-sEV-3","v":-1.0},{"r":13,"s":"g-sEV-3","v":-1.05},{"r":14,"s":"g-sEV-3","v":-1.1},{"r":15,"s":"g-sEV-3","v":-1.05},{"r":16,"s":"g-sEV-3","v":-0.8},{"r":17,"s":"g-sEV-3","v":-0.9},{"r":18,"s":"g-sEV-3","v":-1.35},{"r":1,"s":"p-sEV-1","v":1.4},{"r":2,"s":"p-sEV-1","v":0.3},{"r":3,"s":"p-sEV-1","v":0.05},{"r":4,"s":"p-sEV-1","v":0.75},{"r":5,"s":"p-sEV-1","v":1.15},{"r":6,"s":"p-sEV-1","v":1.15},{"r":7,"s":"p-sEV-1","v":1.0},{"r":8,"s":"p-sEV-1","v":0.9},{"r":9,"s":"p-sEV-1","v":0.95},{"r":10,"s":"p-sEV-1","v":0.7},{"r":11,"s":"p-sEV-1","v":0.85},{"r":12,"s":"p-sEV-1","v":0.95},{"r":13,"s":"p-sEV-1","v":0.95},{"r":14,"s":"p-sEV-1","v":1.0},{"r":15,"s":"p-sEV-1","v":0.85},{"r":16,"s":"p-sEV-1","v":0.8},{"r":17,"s":"p-sEV-1","v":1.15},{"r":18,"s":"p-sEV-1","v":0.85},{"r":1,"s":"p-sEV-2","v":0.2},{"r":2,"s":"p-sEV-2","v":0.8},{"r":3,"s":"p-sEV-2","v":1.2},{"r":4,"s":"p-sEV-2","v":1.2},{"r":5,"s":"p-sEV-2","v":0.6},{"r":6,"s":"p-sEV-2","v":0.65},{"r":7,"s":"p-sEV-2","v":0.85},{"r":8,"s":"p-sEV-2","v":0.8},{"r":9,"s":"p-sEV-2","v":0.85},{"r":10,"s":"p-sEV-2","v":0.85},{"r":11,"s":"p-sEV-2","v":0.85},{"r":12,"s":"p-sEV-2","v":0.75},{"r":13,"s":"p-sEV-2","v":0.95},{"r":14,"s":"p-sEV-2","v":1.05},{"r":15,"s":"p-sEV-2","v":1.15},{"r":16,"s":"p-sEV-2","v":1.1},{"r":17,"s":"p-sEV-2","v":1.0},{"r":18,"s":"p-sEV-2","v":1.3},{"r":1,"s":"p-sEV-3","v":-1.2},{"r":2,"s":"p-sEV-3","v":1.5},{"r":3,"s":"p-sEV-3","v":1.15},{"r":4,"s":"p-sEV-3","v":1.0},{"r":5,"s":"p-sEV-3","v":0.85},{"r":6,"s":"p-sEV-3","v":0.85},{"r":7,"s":"p-sEV-3","v":0.9},{"r":8,"s":"p-sEV-3","v":0.95},{"r":9,"s":"p-sEV-3","v":1.0},{"r":10,"s":"p-sEV-3","v":1.05},{"r":11,"s":"p-sEV-3","v":0.9},{"r":12,"s":"p-sEV-3","v":0.9},{"r":13,"s":"p-sEV-3","v":0.8},{"r":14,"s":"p-sEV-3","v":0.7},{"r":15,"s":"p-sEV-3","v":0.7},{"r":16,"s":"p-sEV-3","v":0.65},{"r":17,"s":"p-sEV-3","v":0.35},{"r":18,"s":"p-sEV-3","v":0.6}]},"mark":{"type":"rect"},"encoding":{"x":{"field":"s","type":"nominal","axis":null,"sort":null,"scale":{"paddingInner":0,"paddingOuter":0}},"y":{"field":"r","type":"ordinal","axis":null,"scale":{"paddingInner":0,"paddingOuter":0}},"color":{"field":"v","type":"quantitative","scale":{"domain":[-2,-1,0,2],"range":["#0000ff","#A47BFF","#ffffff","#ff0000"],"interpolate":"lab"},"legend":{"type":"gradient","orient":"none","legendX":1203,"legendY":178,"title":null,"direction":"vertical","gradientLength":140,"gradientThickness":29,"values":[-2,-1,0,1,2],"labelExpr":"''"}}}},
{"width":1,"height":1,"data":{"values":[]},"mark":"rect","encoding":{}},
{"width":1,"height":1,"data":{"values":[]},"mark":"rect","encoding":{}},
{"width":1,"height":4,"data":{"values":[]},"mark":"rect","encoding":{}},
{"width":1,"height":1,"data":{"values":[]},"mark":"rect","encoding":{}},
{"width":1,"height":1,"data":{"values":[]},"mark":"rect","encoding":{}},
{"width":1,"height":1,"data":{"values":[]},"mark":"rect","encoding":{}},
{"width":1,"height":1,"data":{"values":[]},"mark":"rect","encoding":{}},
{"width":1195,"height":669,"data":{"values":[{"r":1,"s":"g-sEV-1","v":1.7},{"r":2,"s":"g-sEV-1","v":-0.1},{"r":3,"s":"g-sEV-1","v":0.7},{"r":4,"s":"g-sEV-1","v":0.3},{"r":5,"s":"g-sEV-1","v":0.95},{"r":6,"s":"g-sEV-1","v":0.9},{"r":7,"s":"g-sEV-1","v":0.9},{"r":8,"s":"g-sEV-1","v":0.8},{"r":9,"s":"g-sEV-1","v":0.75},{"r":10,"s":"g-sEV-1","v":1.0},{"r":11,"s":"g-sEV-1","v":0.95},{"r":12,"s":"g-sEV-1","v":0.9},{"r":13,"s":"g-sEV-1","v":0.5},{"r":14,"s":"g-sEV-1","v":0.9},{"r":15,"s":"g-sEV-1","v":1.3},{"r":16,"s":"g-sEV-1","v":0.95},{"r":17,"s":"g-sEV-1","v":0.75},{"r":18,"s":"g-sEV-1","v":1.55},{"r":19,"s":"g-sEV-1","v":1.4},{"r":20,"s":"g-sEV-1","v":1.2},{"r":21,"s":"g-sEV-1","v":1.3},{"r":22,"s":"g-sEV-1","v":1.1},{"r":23,"s":"g-sEV-1","v":1.5},{"r":24,"s":"g-sEV-1","v":0.75},{"r":25,"s":"g-sEV-1","v":0.6},{"r":26,"s":"g-sEV-1","v":0.4},{"r":27,"s":"g-sEV-1","v":0.8},{"r":28,"s":"g-sEV-1","v":0.9},{"r":29,"s":"g-sEV-1","v":0.9},{"r":30,"s":"g-sEV-1","v":0.9},{"r":31,"s":"g-sEV-1","v":0.85},{"r":32,"s":"g-sEV-1","v":1.05},{"r":33,"s":"g-sEV-1","v":1.05},{"r":34,"s":"g-sEV-1","v":1.05},{"r":35,"s":"g-sEV-1","v":1.1},{"r":36,"s":"g-sEV-1","v":1.1},{"r":37,"s":"g-sEV-1","v":0.95},{"r":38,"s":"g-sEV-1","v":0.55},{"r":39,"s":"g-sEV-1","v":0.95},{"r":40,"s":"g-sEV-1","v":0.85},{"r":1,"s":"g-sEV-2","v":0.5},{"r":2,"s":"g-sEV-2","v":0.3},{"r":3,"s":"g-sEV-2","v":1.1},{"r":4,"s":"g-sEV-2","v":1.6},{"r":5,"s":"g-sEV-2","v":1.05},{"r":6,"s":"g-sEV-2","v":1.0},{"r":7,"s":"g-sEV-2","v":1.0},{"r":8,"s":"g-sEV-2","v":1.0},{"r":9,"s":"g-sEV-2","v":1.0},{"r":10,"s":"g-sEV-2","v":1.0},{"r":11,"s":"g-sEV-2","v":0.8},{"r":12,"s":"g-sEV-2","v":0.7},{"r":13,"s":"g-sEV-2","v":1.15},{"r":14,"s":"g-sEV-2","v":1.0},{"r":15,"s":"g-sEV-2","v":1.1},{"r":16,"s":"g-sEV-2","v":1.15},{"r":17,"s":"g-sEV-2","v":1.3},{"r":18,"s":"g-sEV-2","v":0.25},{"r":19,"s":"g-sEV-2","v":0.5},{"r":20,"s":"g-sEV-2","v":0.25},{"r":21,"s":"g-sEV-2","v":0.8},{"r":22,"s":"g-sEV-2","v":0.75},{"r":23,"s":"g-sEV-2","v":0.65},{"r":24,"s":"g-sEV-2","v":0.5},{"r":25,"s":"g-sEV-2","v":0.0},{"r":26,"s":"g-sEV-2","v":0.85},{"r":27,"s":"g-sEV-2","v":0.9},{"r":28,"s":"g-sEV-2","v":0.9},{"r":29,"s":"g-sEV-2","v":0.85},{"r":30,"s":"g-sEV-2","v":0.85},{"r":31,"s":"g-sEV-2","v":0.8},{"r":32,"s":"g-sEV-2","v":0.8},{"r":33,"s":"g-sEV-2","v":0.8},{"r":34,"s":"g-sEV-2","v":0.7},{"r":35,"s":"g-sEV-2","v":0.7},{"r":36,"s":"g-sEV-2","v":0.65},{"r":37,"s":"g-sEV-2","v":0.6},{"r":38,"s":"g-sEV-2","v":1.05},{"r":39,"s":"g-sEV-2","v":0.75},{"r":40,"s":"g-sEV-2","v":0.65},{"r":1,"s":"g-sEV-3","v":-0.3},{"r":2,"s":"g-sEV-3","v":1.85},{"r":3,"s":"g-sEV-3","v":0.9},{"r":4,"s":"g-sEV-3","v":0.5},{"r":5,"s":"g-sEV-3","v":0.65},{"r":6,"s":"g-sEV-3","v":0.7},{"r":7,"s":"g-sEV-3","v":0.75},{"r":8,"s":"g-sEV-3","v":0.75},{"r":9,"s":"g-sEV-3","v":0.7},{"r":10,"s":"g-sEV-3","v":0.65},{"r":11,"s":"g-sEV-3","v":0.85},{"r":12,"s":"g-sEV-3","v":0.75},{"r":13,"s":"g-sEV-3","v":0.35},{"r":14,"s":"g-sEV-3","v":0.1},{"r":15,"s":"g-sEV-3","v":0.2},{"r":16,"s":"g-sEV-3","v":0.5},{"r":17,"s":"g-sEV-3","v":0.4},{"r":18,"s":"g-sEV-3","v":0.5},{"r":19,"s":"g-sEV-3","v":0.9},{"r":20,"s":"g-sEV-3","v":1.05},{"r":21,"s":"g-sEV-3","v":0.9},{"r":22,"s":"g-sEV-3","v":0.95},{"r":23,"s":"g-sEV-3","v":0.8},{"r":24,"s":"g-sEV-3","v":0.9},{"r":25,"s":"g-sEV-3","v":1.45},{"r":26,"s":"g-sEV-3","v":1.25},{"r":27,"s":"g-sEV-3","v":0.95},{"r":28,"s":"g-sEV-3","v":0.95},{"r":29,"s":"g-sEV-3","v":1.0},{"r":30,"s":"g-sEV-3","v":0.95},{"r":31,"s":"g-sEV-3","v":1.0},{"r":32,"s":"g-sEV-3","v":0.95},{"r":33,"s":"g-sEV-3","v":0.95},{"r":34,"s":"g-sEV-3","v":1.0},{"r":35,"s":"g-sEV-3","v":1.0},{"r":36,"s":"g-sEV-3","v":1.2},{"r":37,"s":"g-sEV-3","v":1.15},{"r":38,"s":"g-sEV-3","v":1.05},{"r":39,"s":"g-sEV-3","v":1.0},{"r":40,"s":"g-sEV-3","v":1.1},{"r":1,"s":"p-sEV-1","v":-0.5},{"r":2,"s":"p-sEV-1","v":-1.7},{"r":3,"s":"p-sEV-1","v":-1.2},{"r":4,"s":"p-sEV-1","v":-0.85},{"r":5,"s":"p-sEV-1","v":-0.85},{"r":6,"s":"p-sEV-1","v":-0.9},{"r":7,"s":"p-sEV-1","v":-0.85},{"r":8,"s":"p-sEV-1","v":-0.8},{"r":9,"s":"p-sEV-1","v":-0.85},{"r":10,"s":"p-sEV-1","v":-0.85},{"r":11,"s":"p-sEV-1","v":-0.95},{"r":12,"s":"p-sEV-1","v":-0.55},{"r":13,"s":"p-sEV-1","v":-0.85},{"r":14,"s":"p-sEV-1","v":-0.5},{"r":15,"s":"p-sEV-1","v":-1.1},{"r":16,"s":"p-sEV-1","v":-0.9},{"r":17,"s":"p-sEV-1","v":-0.9},{"r":18,"s":"p-sEV-1","v":-1.0},{"r":19,"s":"p-sEV-1","v":-0.85},{"r":20,"s":"p-sEV-1","v":-1.05},{"r":21,"s":"p-sEV-1","v":-1.5},{"r":22,"s":"p-sEV-1","v":-1.3},{"r":23,"s":"p-sEV-1","v":-1.2},{"r":24,"s":"p-sEV-1","v":0.0},{"r":25,"s":"p-sEV-1","v":-0.8},{"r":26,"s":"p-sEV-1","v":-1.1},{"r":27,"s":"p-sEV-1","v":-1.15},{"r":28,"s":"p-sEV-1","v":-1.1},{"r":29,"s":"p-sEV-1","v":-1.05},{"r":30,"s":"p-sEV-1","v":-1.0},{"r":31,"s":"p-sEV-1","v":-1.0},{"r":32,"s":"p-sEV-1","v":-1.05},{"r":33,"s":"p-sEV-1","v":-1.0},{"r":34,"s":"p-sEV-1","v":-1.0},{"r":35,"s":"p-sEV-1","v":-0.95},{"r":36,"s":"p-sEV-1","v":-1.15},{"r":37,"s":"p-sEV-1","v":-1.1},{"r":38,"s":"p-sEV-1","v":-0.75},{"r":39,"s":"p-sEV-1","v":-0.75},{"r":40,"s":"p-sEV-1","v":-0.7},{"r":1,"s":"p-sEV-2","v":-1.0},{"r":2,"s":"p-sEV-2","v":-0.5},{"r":3,"s":"p-sEV-2","v":-1.05},{"r":4,"s":"p-sEV-2","v":-0.95},{"r":5,"s":"p-sEV-2","v":-1.0},{"r":6,"s":"p-sEV-2","v":-1.15},{"r":7,"s":"p-sEV-2","v":-1.1},{"r":8,"s":"p-sEV-2","v":-1.0},{"r":9,"s":"p-sEV-2","v":-1.2},{"r":10,"s":"p-sEV-2","v":-1.3},{"r":11,"s":"p-sEV-2","v":-0.9},{"r":12,"s":"p-sEV-2","v":-0.9},{"r":13,"s":"p-sEV-2","v":-0.3},{"r":14,"s":"p-sEV-2","v":-0.8},{"r":15,"s":"p-sEV-2","v":-1.25},{"r":16,"s":"p-sEV-2","v":-1.15},{"r":17,"s":"p-sEV-2","v":-1.0},{"r":18,"s":"p-sEV-2","v":-0.85},{"r":19,"s":"p-sEV-2","v":-1.5},{"r":20,"s":"p-sEV-2","v":-1.0},{"r":21,"s":"p-sEV-2","v":-0.95},{"r":22,"s":"p-sEV-2","v":-1.2},{"r":23,"s":"p-sEV-2","v":-1.1},{"r":24,"s":"p-sEV-2","v":-1.05},{"r":25,"s":"p-sEV-2","v":-1.25},{"r":26,"s":"p-sEV-2","v":-1.05},{"r":27,"s":"p-sEV-2","v":-1.1},{"r":28,"s":"p-sEV-2","v":-1.15},{"r":29,"s":"p-sEV-2","v":-1.05},{"r":30,"s":"p-sEV-2","v":-1.05},{"r":31,"s":"p-sEV-2","v":-1.0},{"r":32,"s":"p-sEV-2","v":-0.9},{"r":33,"s":"p-sEV-2","v":-1.0},{"r":34,"s":"p-sEV-2","v":-1.0},{"r":35,"s":"p-sEV-2","v":-0.95},{"r":36,"s":"p-sEV-2","v":-1.05},{"r":37,"s":"p-sEV-2","v":-1.1},{"r":38,"s":"p-sEV-2","v":-1.55},{"r":39,"s":"p-sEV-2","v":-1.2},{"r":40,"s":"p-sEV-2","v":-1.2},{"r":1,"s":"p-sEV-3","v":-0.7},{"r":2,"s":"p-sEV-3","v":-0.5},{"r":3,"s":"p-sEV-3","v":-0.6},{"r":4,"s":"p-sEV-3","v":-1.1},{"r":5,"s":"p-sEV-3","v":-1.05},{"r":6,"s":"p-sEV-3","v":-1.0},{"r":7,"s":"p-sEV-3","v":-1.0},{"r":8,"s":"p-sEV-3","v":-1.0},{"r":9,"s":"p-sEV-3","v":-0.95},{"r":10,"s":"p-sEV-3","v":-1.05},{"r":11,"s":"p-sEV-3","v":-1.55},{"r":12,"s":"p-sEV-3","v":-1.85},{"r":13,"s":"p-sEV-3","v":-1.35},{"r":14,"s":"p-sEV-3","v":-0.9},{"r":15,"s":"p-sEV-3","v":-1.0},{"r":16,"s":"p-sEV-3","v":-0.9},{"r":17,"s":"p-sEV-3","v":-0.95},{"r":18,"s":"p-sEV-3","v":-1.05},{"r":19,"s":"p-sEV-3","v":-0.7},{"r":20,"s":"p-sEV-3","v":-0.95},{"r":21,"s":"p-sEV-3","v":-0.85},{"r":22,"s":"p-sEV-3","v":-1.05},{"r":23,"s":"p-sEV-3","v":-1.1},{"r":24,"s":"p-sEV-3","v":-1.75},{"r":25,"s":"p-sEV-3","v":-1.2},{"r":26,"s":"p-sEV-3","v":-1.0},{"r":27,"s":"p-sEV-3","v":-1.05},{"r":28,"s":"p-sEV-3","v":-0.85},{"r":29,"s":"p-sEV-3","v":-1.0},{"r":30,"s":"p-sEV-3","v":-1.05},{"r":31,"s":"p-sEV-3","v":-1.1},{"r":32,"s":"p-sEV-3","v":-1.05},{"r":33,"s":"p-sEV-3","v":-1.05},{"r":34,"s":"p-sEV-3","v":-1.0},{"r":35,"s":"p-sEV-3","v":-1.15},{"r":36,"s":"p-sEV-3","v":-1.1},{"r":37,"s":"p-sEV-3","v":-1.05},{"r":38,"s":"p-sEV-3","v":-0.9},{"r":39,"s":"p-sEV-3","v":-1.25},{"r":40,"s":"p-sEV-3","v":-1.25}]},"mark":{"type":"rect"},"encoding":{"x":{"field":"s","type":"nominal","sort":null,"scale":{"paddingInner":0,"paddingOuter":0},"axis":{"title":null,"orient":"bottom","labelAngle":0,"ticks":false,"domain":false,"labelFontSize":34,"labelFontWeight":"bold","labelColor":"#111111","labelPadding":-2,"labelFont":"Liberation Sans"}},"y":{"field":"r","type":"ordinal","axis":null,"scale":{"paddingInner":0,"paddingOuter":0}},"color":{"field":"v","type":"quantitative","scale":{"domain":[-2,-1,0,2],"range":["#0000ff","#A47BFF","#ffffff","#ff0000"],"interpolate":"lab"},"legend":null}}},
{"width":1,"height":1,"data":{"values":[]},"mark":"rect","encoding":{}},
{"width":1,"height":1,"data":{"values":[]},"mark":"rect","encoding":{}}
]}
